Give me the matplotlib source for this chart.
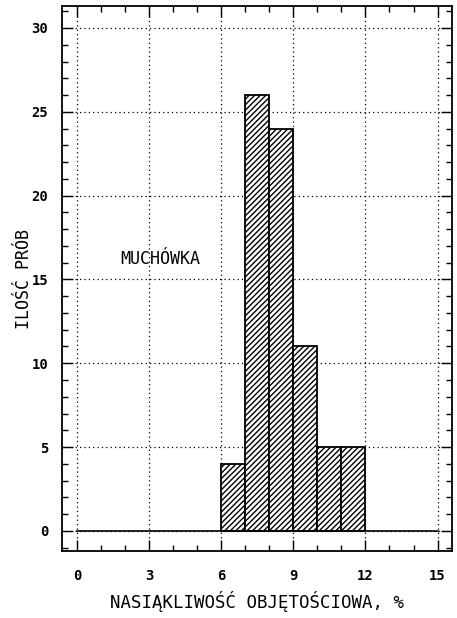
import numpy as np
import matplotlib.pyplot as plt
from matplotlib.ticker import MultipleLocator

# histogram data: bin edges (left) and counts
bin_left = [6, 7, 8, 9, 10, 11]
counts = [4, 26, 24, 11, 5, 5]
bin_width = 1
x_ticks = [0, 3, 6, 9, 12, 15]
y_ticks = [0, 5, 10, 15, 20, 25, 30]

fig = plt.figure(figsize=(4.57, 6.18), dpi=100)
ax = fig.add_axes([0.1357, 0.1084, 0.8533, 0.8816])

ax.bar(bin_left, counts, width=bin_width, align="edge",
       facecolor="white", edgecolor="black", hatch="//////", linewidth=1.3, zorder=3)

# baseline at zero
ax.plot([x_ticks[0], x_ticks[-1]], [0, 0], color="black", linewidth=1.2, zorder=4)

ax.set_xlim(-0.62, 15.6)
ax.set_ylim(-1.2, 31.3)
ax.set_xticks(x_ticks)
ax.set_yticks(y_ticks)
ax.xaxis.set_minor_locator(MultipleLocator(1))
ax.yaxis.set_minor_locator(MultipleLocator(1))
ax.tick_params(which="both", direction="in", top=True, right=True, width=1.0)
ax.tick_params(which="major", length=8)
ax.tick_params(which="minor", length=4)
ax.tick_params(axis="x", pad=13)
ax.tick_params(axis="y", pad=10)

ax.grid(True, which="major", linestyle=(0, (1, 2.5)), color="black", linewidth=0.9, zorder=0)

for sp in ax.spines.values():
    sp.set_linewidth(1.3)

for lab in ax.get_xticklabels() + ax.get_yticklabels():
    lab.set_fontfamily("DejaVu Sans Mono")
    lab.set_fontweight("bold")
    lab.set_fontsize(10)

ax.text(1.8, 16.2, "MUCHÓWKA", family="DejaVu Sans Mono", fontsize=12,
        ha="left", va="center")

ax.set_xlabel("NASIĄKLIWOŚĆ OBJĘTOŚCIOWA, %", family="DejaVu Sans Mono",
              fontsize=12.5, labelpad=6)
ax.set_ylabel("ILOŚĆ PRÓB", family="DejaVu Sans Mono", fontsize=12)
ax.yaxis.set_label_coords(-0.075, 0.5)

fig.savefig("out.png", dpi=100)
